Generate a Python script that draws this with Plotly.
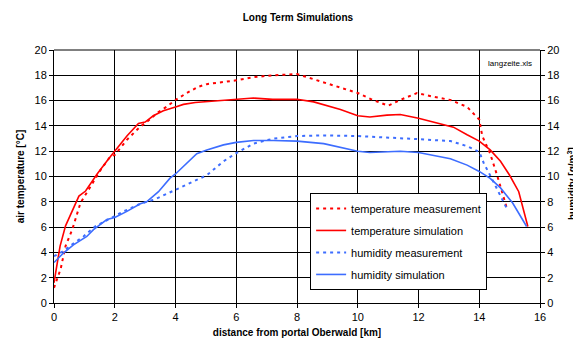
import plotly.graph_objects as go

# temperature simulation
ts_x = [0, 0.1, 0.2, 0.38, 0.6, 0.82, 1.04, 1.42, 1.8, 2.0, 2.4, 2.78, 3.0, 3.27, 3.6, 4.0, 4.26, 4.65, 5.25, 6.0, 6.57, 7.2, 8.0, 8.55, 9.43, 10.0, 10.4, 10.96, 11.4, 12.0, 12.6, 13.15, 13.6, 14.0, 14.36, 14.7, 15.0, 15.3, 15.6]
ts_y = [1.6, 3.0, 4.5, 6.1, 7.3, 8.45, 8.85, 10.2, 11.4, 12.0, 13.2, 14.2, 14.3, 14.8, 15.2, 15.5, 15.7, 15.85, 15.95, 16.05, 16.2, 16.1, 16.1, 15.9, 15.3, 14.8, 14.7, 14.85, 14.9, 14.6, 14.25, 13.9, 13.3, 12.8, 12.1, 11.2, 10.1, 8.8, 6.05]

# temperature measurement
tm_x = [0, 0.22, 0.38, 0.6, 0.87, 1.2, 1.53, 1.86, 2.0, 2.4, 2.84, 3.05, 3.44, 3.7, 4.0, 4.37, 4.76, 5.03, 5.6, 6.0, 6.57, 7.2, 8.0, 8.55, 9.2, 10.0, 10.5, 11.0, 11.4, 11.95, 12.5, 13.05, 13.6, 14.0, 14.1, 14.36, 14.6, 14.75, 14.92]
tm_y = [1.2, 2.7, 4.5, 5.8, 7.9, 9.2, 10.5, 11.6, 11.7, 12.9, 13.95, 14.3, 15.1, 15.5, 16.05, 16.6, 17.1, 17.3, 17.45, 17.6, 17.85, 18.0, 18.1, 17.7, 17.2, 16.6, 16.05, 15.6, 16.05, 16.6, 16.3, 16.05, 15.5, 14.5, 13.2, 11.8, 10.0, 8.7, 7.4]

# humidity simulation
hs_x = [0, 0.31, 0.64, 0.91, 1.08, 1.3, 1.74, 2.0, 2.4, 2.84, 3.05, 3.44, 3.82, 4.0, 4.37, 4.7, 5.03, 5.58, 6.0, 6.57, 7.23, 8.0, 8.88, 10.0, 10.4, 11.4, 12.0, 13.05, 13.6, 14.0, 14.36, 14.7, 15.1, 15.56]
hs_y = [3.2, 3.95, 4.6, 5.0, 5.26, 5.8, 6.6, 6.76, 7.24, 7.84, 8.0, 8.8, 9.87, 10.2, 11.05, 11.8, 12.1, 12.5, 12.7, 12.85, 12.85, 12.8, 12.6, 12.0, 11.9, 12.0, 11.9, 11.4, 10.9, 10.4, 9.85, 9.1, 7.9, 6.05]

# humidity measurement
hm_x = [0, 0.31, 0.58, 0.97, 1.35, 1.8, 2.29, 2.84, 3.33, 4.0, 4.48, 5.03, 5.58, 6.0, 6.57, 7.23, 8.0, 8.88, 10.0, 10.96, 12.0, 13.05, 13.6, 14.0, 14.15, 14.4, 14.65, 14.9]
hm_y = [3.7, 4.1, 4.6, 5.26, 6.05, 6.6, 7.24, 7.84, 8.2, 8.95, 9.5, 10.1, 11.2, 11.85, 12.6, 13.0, 13.2, 13.25, 13.2, 13.1, 12.95, 12.8, 12.4, 11.95, 11.05, 9.9, 8.7, 7.5]

RED = "#ff0000"
BLUE = "#3d6dff"
FONT = "Liberation Sans, Arial, sans-serif"

fig = go.Figure()
fig.add_trace(go.Scatter(x=tm_x, y=tm_y, mode="lines", name="temperature measurement", legendgroup="a",
                         line=dict(color=RED, width=2, dash="3px,4px")))
fig.add_trace(go.Scatter(x=ts_x, y=ts_y, mode="lines", name="temperature simulation", legendgroup="b",
                         line=dict(color=RED, width=1.6)))
fig.add_trace(go.Scatter(x=hm_x, y=hm_y, mode="lines", name="humidity measurement", yaxis="y2",
                         legendgroup="c", line=dict(color=BLUE, width=2, dash="3px,4px")))
fig.add_trace(go.Scatter(x=hs_x, y=hs_y, mode="lines", name="humidity simulation", yaxis="y2",
                         legendgroup="d", line=dict(color=BLUE, width=1.6)))

axis_common = dict(showline=True, linecolor="black", linewidth=1, ticks="outside",
                   tickcolor="black", ticklen=4, tickfont=dict(family=FONT, size=11, color="black"),
                   zeroline=False, automargin=False)

fig.update_layout(
    width=573, height=345,
    margin=dict(l=54, r=33, t=50, b=42),
    paper_bgcolor="white", plot_bgcolor="white",
    font=dict(family=FONT, color="black"),
    title=dict(text="<b>Long Term Simulations</b>", x=0.52, xanchor="center", y=0.95, yanchor="middle",
               font=dict(family=FONT, size=10, color="black")),
    xaxis=dict(range=[0, 16], tickvals=list(range(0, 17, 2)), showgrid=True, gridcolor="black",
               gridwidth=1,
               title=dict(text="<b>distance from portal Oberwald [km]</b>", standoff=6,
                          font=dict(family=FONT, size=10, color="black")),
               **axis_common),
    yaxis=dict(range=[0, 20], tickvals=list(range(0, 21, 2)), showgrid=True, gridcolor="black",
               gridwidth=1,
               title=dict(text="<b>air temperature [°C]</b>", standoff=8,
                          font=dict(family=FONT, size=10, color="black")),
               **axis_common),
    yaxis2=dict(range=[0, 20], tickvals=list(range(0, 21, 2)), overlaying="y", side="right",
                showgrid=False, **axis_common),
    legend=dict(x=0.527, y=0.435, xanchor="left", yanchor="top", bgcolor="white",
                bordercolor="black", borderwidth=1, tracegroupgap=3,
                font=dict(family=FONT, size=11, color="black"), itemwidth=30),
    showlegend=True,
)

# top border of plot
fig.add_shape(type="line", xref="paper", yref="paper", x0=0, x1=1, y0=1, y1=1,
              line=dict(color="black", width=1))

fig.add_annotation(text="langzeite.xls", xref="x", yref="y", x=15.0, y=18.9, showarrow=False,
                   font=dict(family=FONT, size=8, color="black"), bgcolor="white")

fig.add_annotation(text="<b>humidity [g/m<sup>3</sup>]</b>", xref="paper", yref="paper",
                   x=1.0, xshift=32, y=0.47, textangle=-90, showarrow=False, xanchor="center",
                   font=dict(family=FONT, size=10, color="black"))

fig.write_html("out.html", config={"displayModeBar": False},
               post_script="document.body.style.margin='0';document.body.style.overflow='hidden';")
